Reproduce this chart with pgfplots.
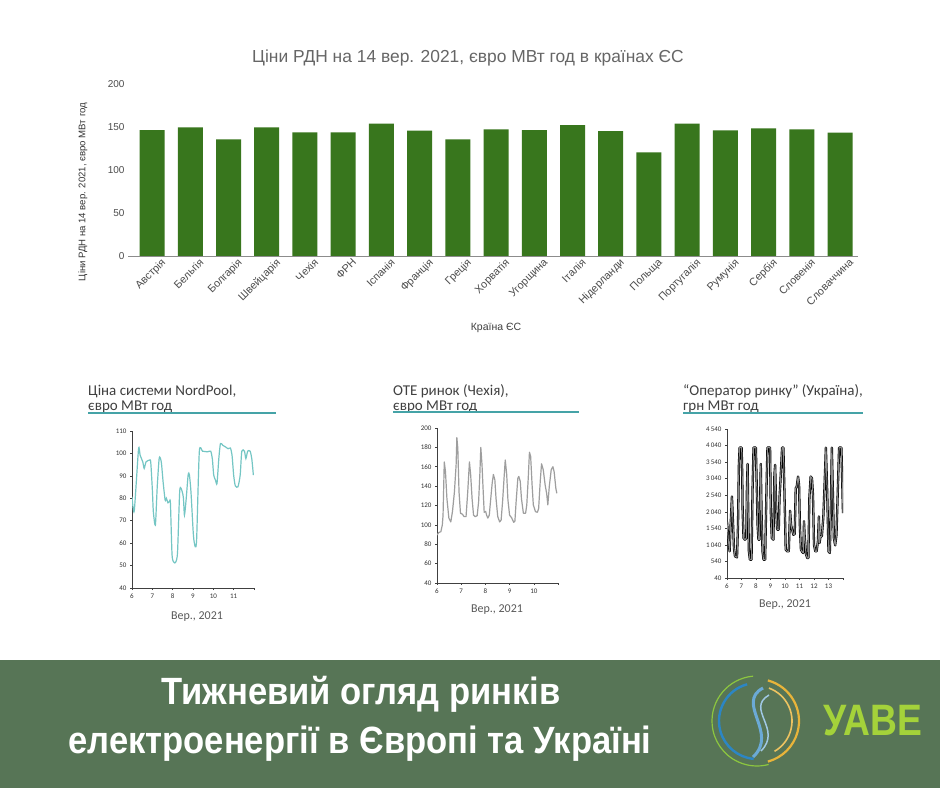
\documentclass[border=0pt]{standalone}
\usepackage{fontspec}
\setmainfont{Liberation Sans}
\newfontfamily\calibri{Carlito}
\newfontfamily\bannerfont[FakeStretch=0.91]{Liberation Sans}
\usepackage{pgfplots}
\pgfplotsset{compat=1.18}
\definecolor{bargreen}{HTML}{38761D}
\definecolor{bannergreen}{HTML}{577556}
\definecolor{nordline}{HTML}{74C6C4}
\definecolor{rule}{HTML}{45A3A7}
\definecolor{logoblue}{HTML}{2C86C4}
\definecolor{logoyellow}{HTML}{E8B43A}
\definecolor{logogreen}{HTML}{8CC63F}
\definecolor{logolime}{HTML}{A4D23A}

\pgfplotsset{
  small/.style={
    scale only axis, axis lines=left,
    axis line style={-, black!75, line width=0.6pt},
    tick align=outside, major tick length=2pt,
    tick style={black!75, line width=0.5pt},
    ticklabel style={font=\calibri\fontsize{7}{8}\selectfont, text=black!80},
    /pgf/number format/assume math mode=true,
  }
}

\begin{document}
\begin{tikzpicture}[x=1pt,y=1pt]
\useasboundingbox (0,0) rectangle (940,788);
\fill[white] (0,0) rectangle (940,788);

% ---- top bar chart
\node[font=\fontsize{17.4}{19}\selectfont, text=black!60] at (468,730)
  {Ціни РДН на 14 вер. 2021, євро МВт год в країнах ЄС};
\begin{axis}[
  at={(128pt,532pt)}, anchor=south west,
  scale only axis, width=730pt, height=172pt,
  ymin=0, ymax=200, ytick={0,50,...,200},
  xmin=-0.63, xmax=18.47,
  axis lines=left,
  y axis line style={draw=none},
  x axis line style={-, draw=black!45, line width=0.8pt},
  major tick length=0pt,
  yticklabel style={font=\fontsize{10}{11}\selectfont, text=black!70},
  /pgf/number format/assume math mode=true,
  xtick={0,...,18},
  xticklabels={Австрія,Бельгія,Болгарія,Швейцарія,Чехія,ФРН,Іспанія,Франція,Греція,Хорватія,Угорщина,Італія,Нідерланди,Польща,Португалія,Румунія,Сербія,Словенія,Словаччина},
  xticklabel style={rotate=45, anchor=north east, inner sep=0pt, xshift=5pt, yshift=-7pt,
    font=\fontsize{10.8}{12}\selectfont, text=black!70},
  ybar, bar width=25pt,
]
\addplot[fill=bargreen, draw=none] coordinates {
 (0,146.5) (1,149.6) (2,135.6) (3,149.6) (4,143.8) (5,143.8) (6,153.9)
 (7,145.7) (8,135.6) (9,147.3) (10,146.5) (11,152.3) (12,145.3) (13,120.5)
 (14,153.9) (15,146.0) (16,148.4) (17,147.3) (18,143.4)};
\end{axis}
\node[rotate=90, font=\fontsize{9.6}{10}\selectfont, text=black!80] at (83,596)
  {Ціни РДН на 14 вер. 2021, євро МВт год};
\node[font=\fontsize{10.5}{12}\selectfont, text=black!75] at (496,460) {Країна ЄС};

% ---- small chart titles
\begin{scope}[font=\calibri\fontsize{15}{16}\selectfont, text=black!75]
\node[anchor=base west, inner sep=0] at (88,392) {Ціна системи NordPool,};
\node[anchor=base west, inner sep=0] at (88,377) {євро МВт год};
\node[anchor=base west, inner sep=0] at (393,392) {ОТЕ ринок (Чехія),};
\node[anchor=base west, inner sep=0] at (393,377) {євро МВт год};
\node[anchor=base west, inner sep=0] at (683,392) {“Оператор ринку” (Україна),};
\node[anchor=base west, inner sep=0] at (683,377) {грн МВт год};
\end{scope}
\draw[rule, line width=1.3pt] (88,375) -- (276,375);
\draw[rule, line width=1.3pt] (393,376) -- (579,376);
\draw[rule, line width=1.3pt] (683,375) -- (863,375);

% ---- NordPool
\begin{axis}[small,
  at={(132pt,200pt)}, anchor=south west, width=122pt, height=157pt,
  xmin=6, xmax=12, ymin=40, ymax=110,
  xtick={6,...,12}, xticklabels={6,7,8,9,10,11,},
  ytick={40,50,...,110}]
\addplot[nordline, line width=1.2pt, smooth, tension=0.4] coordinates {
 (6.00,80.7)(6.11,74.3)(6.32,101.8)(6.40,99.2)(6.53,96.2)(6.60,93.3)(6.69,96.2)
 (6.85,97.0)(6.92,96.2)(7.00,84)(7.05,74)(7.15,68)(7.24,85)(7.34,98)(7.44,96.2)
 (7.53,87.3)(7.63,79.2)(7.69,80)(7.77,78)(7.85,78.7)(7.89,77.7)(7.97,54.7)
 (8.06,51.5)(8.15,51.5)(8.24,56)(8.35,83.6)(8.47,82.9)(8.53,80)(8.58,72.5)
 (8.66,79.2)(8.76,90.3)(8.82,90.6)(8.90,82.9)(9.02,63.6)(9.11,58.4)(9.18,62)
 (9.31,100.7)(9.47,101)(9.71,100.7)(9.87,101)(9.95,97.7)(10.02,90.3)(10.11,88)
 (10.18,86.6)(10.27,97.7)(10.35,104.4)(10.47,103.6)(10.60,102.9)(10.73,102.1)
 (10.84,102.4)(10.92,99.2)(11.00,90.3)(11.08,85.6)(11.21,85.1)(11.32,90.3)
 (11.40,101)(11.53,101)(11.60,97.7)(11.69,101)(11.81,101)(11.89,97.7)(11.97,90.3)};
\end{axis}

% ---- OTE
\begin{axis}[small,
  at={(437pt,205pt)}, anchor=south west, width=121pt, height=155pt,
  xmin=6, xmax=11, ymin=40, ymax=200,
  xtick={6,...,11}, xticklabels={6,7,8,9,10,},
  ytick={40,60,...,200}]
\addplot[black!38, line width=1.2pt, line join=round] coordinates {
 (6.00,89.5)(6.07,92)(6.16,93)(6.22,100)(6.25,110)(6.30,165)(6.35,155)(6.41,127)
 (6.49,107)(6.57,103)(6.64,114)(6.72,134)(6.79,162)(6.82,190)(6.86,179)(6.91,134)
 (6.97,112)(7.05,111)(7.12,108.5)(7.20,108.5)(7.27,134)(7.34,165)(7.39,152)
 (7.45,127)(7.51,110)(7.58,108.5)(7.66,109.5)(7.72,124)(7.77,152)(7.81,180)
 (7.86,162)(7.91,134)(7.95,113)(8.01,114)(8.05,110)(8.10,107)(8.16,110)(8.21,124)
 (8.28,143)(8.33,152)(8.39,146.5)(8.44,127)(8.51,108.5)(8.59,103)(8.65,105)
 (8.71,124)(8.77,148)(8.82,167)(8.88,152)(8.93,126)(9.00,110)(9.08,107.5)
 (9.17,102.6)(9.22,104)(9.27,124)(9.34,148)(9.38,150)(9.44,145)(9.49,127)
 (9.57,112)(9.66,112)(9.71,120.6)(9.77,148)(9.82,175)(9.87,170.6)(9.93,141)
 (9.98,120.6)(10.07,113.6)(10.15,113)(10.20,117)(10.27,146.5)(10.32,163)
 (10.39,157)(10.47,141)(10.53,132.6)(10.58,120.6)(10.64,139.6)(10.72,157)
 (10.79,160)(10.84,155)(10.91,138)(10.95,132.6)};
\end{axis}

% ---- Ukraine
\begin{axis}[small,
  at={(727pt,210pt)}, anchor=south west, width=116pt, height=149pt,
  xmin=6, xmax=14, ymin=40, ymax=4540,
  xtick={6,...,14}, xticklabels={6,7,8,9,10,11,12,13,},
  ytick={40,540,...,4540},
  /pgf/number format/1000 sep={\,}]
\addplot[draw=black, line width=0.65pt, double=black!45, double distance=1.0pt,
  line join=round] coordinates {
 (6.00,1750)(6.09,1197)(6.18,845)(6.25,1650)(6.34,2502)(6.41,1750)(6.48,946)
 (6.55,695)(6.69,665)(6.76,1650)(6.82,3456)(6.87,3978)(7.01,3978)(7.05,3154)
 (7.08,2050)(7.14,1247)(7.24,1197)(7.33,1247)(7.37,2652)(7.42,3486)(7.46,2150)
 (7.51,845)(7.58,594)(7.69,594)(7.76,2652)(7.83,3978)(7.99,3978)(8.06,2652)
 (8.11,1650)(8.17,1197)(8.24,1197)(8.33,3486)(8.38,2050)(8.45,845)(8.52,594)
 (8.63,594)(8.72,2652)(8.79,3978)(8.97,3978)(9.02,2050)(9.09,1247)(9.20,1197)
 (9.27,3154)(9.32,3456)(9.39,2150)(9.46,1498)(9.57,1498)(9.62,2452)(9.66,2753)
 (9.73,3355)(9.80,3978)(9.89,3978)(9.96,2652)(10.05,895)(10.16,845)(10.26,845)
 (10.35,2070)(10.42,1650)(10.46,1550)(10.58,1347)(10.67,1367)(10.74,2753)
 (10.81,2803)(10.90,3104)(10.97,2853)(11.03,1550)(11.10,895)(11.19,825)
 (11.26,795)(11.31,1750)(11.35,1347)(11.45,745)(11.54,644)(11.61,644)
 (11.68,2452)(11.77,3104)(11.86,3054)(11.93,2552)(12.00,1046)(12.09,845)
 (12.18,845)(12.27,1146)(12.34,1900)(12.38,1096)(12.45,1297)(12.54,1297)
 (12.64,1850)(12.73,2853)(12.82,3978)(12.91,2652)(13.00,845)(13.09,795)
 (13.16,2050)(13.23,3978)(13.30,2652)(13.37,1247)(13.46,1026)(13.55,1347)
 (13.64,2652)(13.73,3978)(13.89,3978)(14.00,1999)};
\end{axis}

% ---- x labels of small charts
\begin{scope}[font=\calibri\fontsize{12}{13}\selectfont, text=black!65]
\node at (197,171) {Вер., 2021};
\node at (497,178) {Вер., 2021};
\node at (785,183) {Вер., 2021};
\end{scope}

% ---- banner
\fill[bannergreen] (0,0) rectangle (940,128);
\begin{scope}[font=\bannerfont\bfseries\fontsize{38}{40}\selectfont, text=white]
\node at (361,94) {Тижневий огляд ринків};
\node at (360,44) {електроенергії в Європі та Україні};
\end{scope}
\begin{scope}[shift={(757,67)}]
\draw[line width=1.2pt, logogreen] (95:45) arc (95:285:45);
\draw[line width=2.4pt, logoblue] (105:38) arc (105:265:38);
\draw[line width=2.2pt, logoyellow] (75:42) arc (75:-75:42);
\draw[line width=1.6pt, logoyellow!80!white] (70:35) arc (70:-60:35);
\draw[line width=3pt, logoblue!70] (6,33) .. controls (-22,18) and (22,-12) .. (-4,-36);
\draw[line width=1.5pt, logoblue!45] (12,26) .. controls (-12,12) and (26,-8) .. (4,-30);
\end{scope}
\node[font=\bannerfont\bfseries\fontsize{44}{44}\selectfont, text=logolime, xscale=0.93] at (873,67) {УАВЕ};
\end{tikzpicture}
\end{document}
